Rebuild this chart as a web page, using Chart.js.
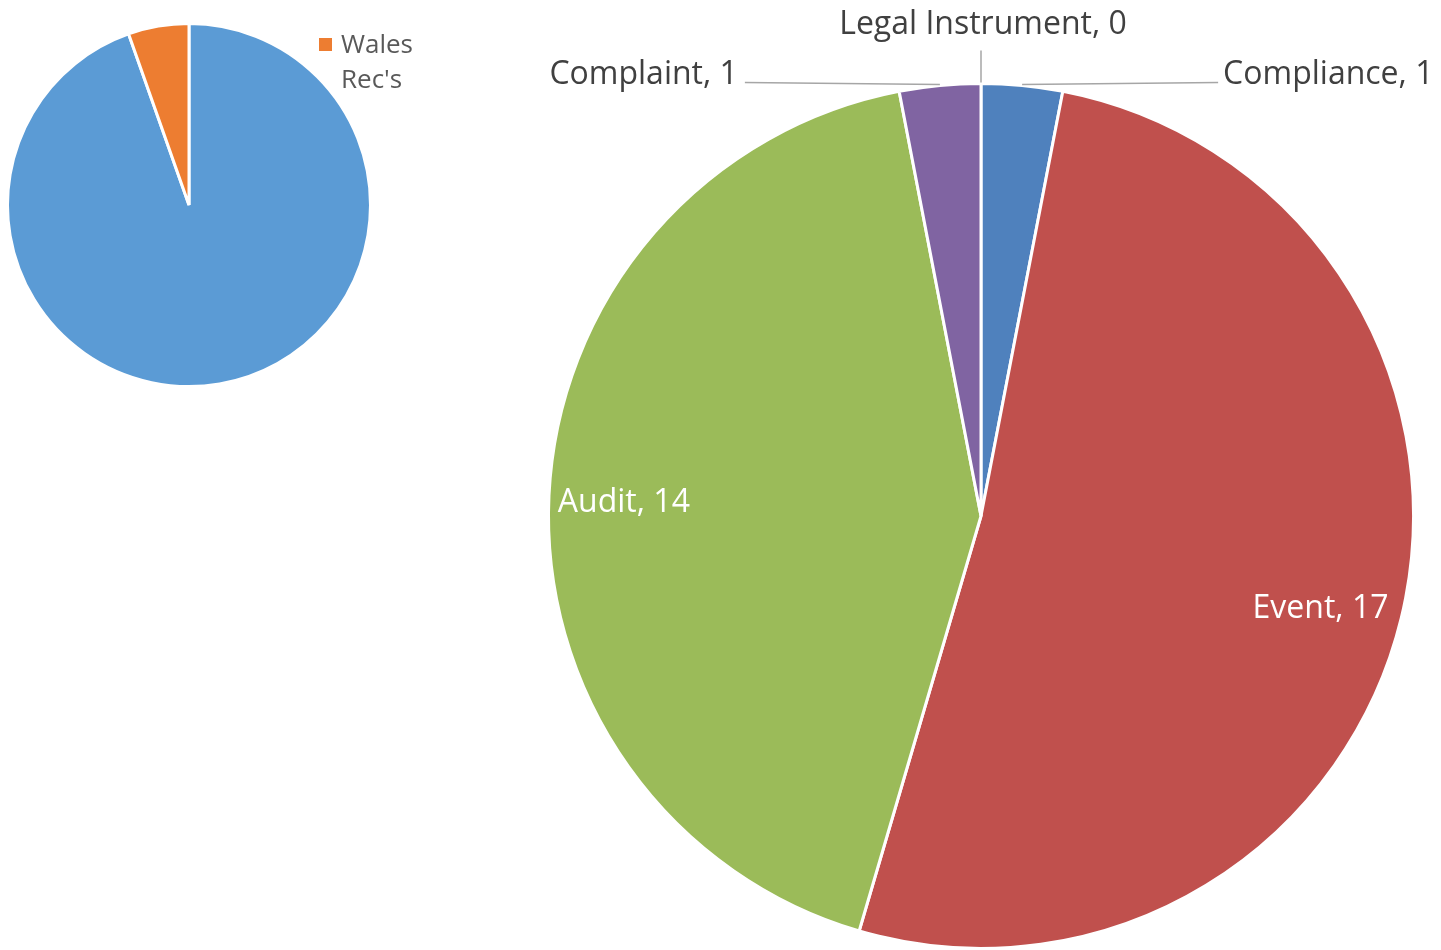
<!DOCTYPE html>
<html lang="en">
<head>
  <meta charset="UTF-8" />
  <title>Records pie charts</title>
  <style>
    body {
      margin: 0;
      background: #fff;
    }
    #wrap {
      position: relative;
      width: 1441px;
      height: 950px;
    }
    canvas {
      position: absolute;
      left: 0;
      top: 0;
    }
  </style>
</head>
<body>
  <div id="wrap">
    <canvas id="mainPie" width="1441" height="950"></canvas>
    <canvas id="smallPie" width="460" height="400"></canvas>
  </div>

  <script src="https://cdn.jsdelivr.net/npm/chart.js"></script>
  <script>
    // small pie (top left)
    const smallLabels = ['Other', "Wales Rec's"];
    const smallValues = [35, 2];
    const smallColors = ['#5B9BD5', '#ED7D31'];

    // main pie
    const mainLabels = ['Compliance', 'Event', 'Audit', 'Complaint', 'Legal Instrument'];
    const mainValues = [1, 17, 14, 1, 0];
    const mainColors = ['#4F81BD', '#C0504D', '#9BBB59', '#8064A2', '#F79646'];

    const FONT = '"Open Sans", sans-serif';

    // where each label sits, relative to the point on the rim at the slice's mid angle
    const outsidePlacement = {
      0: { line: [196, -3], text: [201, -1], align: 'left' },
      3: { line: [-195, -3], text: [-202, -1], align: 'right' },
      4: { line: [0, -33], text: [2, -50], align: 'center' }
    };
    // inside labels go along the radius, with a small nudge
    const insideNudge = {
      1: [-3, 8],
      2: [-5, 2]
    };

    const pieLabels = {
      id: 'pieLabels',
      afterDatasetsDraw(chart) {
        const ctx = chart.ctx;
        const meta = chart.getDatasetMeta(0);
        ctx.save();
        ctx.font = '32px ' + FONT;
        ctx.textBaseline = 'alphabetic';
        meta.data.forEach((arc, i) => {
          const p = arc.getProps(['x', 'y', 'startAngle', 'endAngle', 'outerRadius'], true);
          const mid = (p.startAngle + p.endAngle) / 2;
          const text = mainLabels[i] + ', ' + mainValues[i];
          const place = outsidePlacement[i];
          if (place) {
            const ax = p.x + Math.cos(mid) * p.outerRadius;
            const ay = p.y + Math.sin(mid) * p.outerRadius;
            ctx.strokeStyle = '#A6A6A6';
            ctx.lineWidth = 1.5;
            ctx.beginPath();
            ctx.moveTo(ax, ay - 1);
            ctx.lineTo(ax + place.line[0], ay + place.line[1]);
            ctx.stroke();
            ctx.fillStyle = '#404040';
            ctx.textAlign = place.align;
            ctx.fillText(text, ax + place.text[0], ay + place.text[1]);
          } else {
            const r = p.outerRadius * 0.815;
            const nudge = insideNudge[i] || [0, 0];
            ctx.fillStyle = '#FFFFFF';
            ctx.textAlign = 'center';
            ctx.fillText(text, p.x + Math.cos(mid) * r + nudge[0], p.y + Math.sin(mid) * r + 11 + nudge[1]);
          }
        });
        ctx.restore();
      }
    };

    const smallLegend = {
      id: 'smallLegend',
      afterDraw(chart) {
        const ctx = chart.ctx;
        const i = 1;
        ctx.save();
        ctx.fillStyle = smallColors[i];
        ctx.fillRect(319, 38, 13, 13);
        ctx.fillStyle = '#595959';
        ctx.font = '26px ' + FONT;
        ctx.textAlign = 'left';
        ctx.textBaseline = 'alphabetic';
        const words = smallLabels[i].split(' ');
        words.forEach((w, k) => ctx.fillText(w, 341, 53 + k * 35));
        ctx.restore();
      }
    };

    new Chart(document.getElementById('mainPie'), {
      type: 'pie',
      data: {
        labels: mainLabels,
        datasets: [{
          data: mainValues,
          backgroundColor: mainColors,
          borderColor: '#FFFFFF',
          borderWidth: 3
        }]
      },
      options: {
        responsive: false,
        animation: false,
        layout: { padding: { left: 546, top: 82, right: 25, bottom: -2 } },
        plugins: {
          legend: { display: false },
          tooltip: { enabled: false }
        }
      },
      plugins: [pieLabels]
    });

    new Chart(document.getElementById('smallPie'), {
      type: 'pie',
      data: {
        labels: smallLabels,
        datasets: [{
          data: smallValues,
          backgroundColor: smallColors,
          borderColor: '#FFFFFF',
          borderWidth: 3
        }]
      },
      options: {
        responsive: false,
        animation: false,
        layout: { padding: { left: 6, top: 22, right: 88, bottom: 12 } },
        plugins: {
          legend: { display: false },
          tooltip: { enabled: false }
        }
      },
      plugins: [smallLegend]
    });
  </script>
</body>
</html>
